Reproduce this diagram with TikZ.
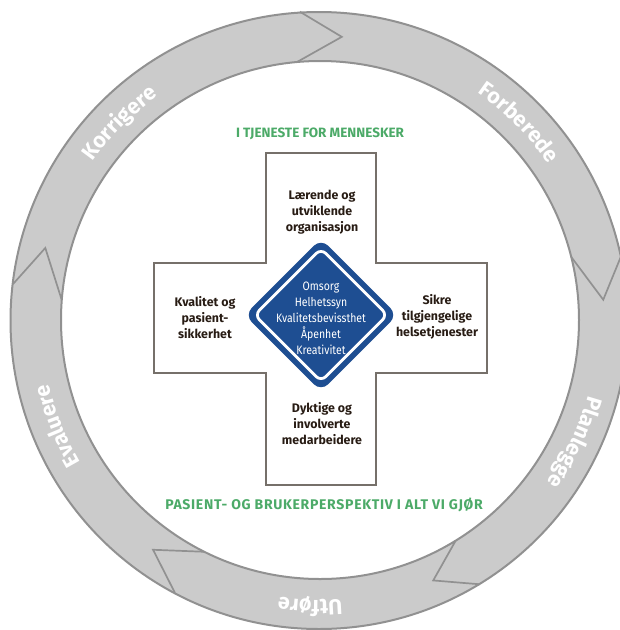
\documentclass[tikz,border=0pt]{standalone}
\usepackage{fontspec}
\setmainfont{Fira Sans}
\usetikzlibrary{decorations.text}
\definecolor{ringfill}{RGB}{203,203,203}
\definecolor{ringline}{RGB}{145,145,145}
\definecolor{crossline}{RGB}{118,112,106}
\definecolor{diablue}{RGB}{30,78,146}
\definecolor{leafgreen}{RGB}{76,170,104}
\definecolor{armtext}{RGB}{40,28,20}
\begin{document}
\begin{tikzpicture}[x=1pt,y=1pt,
  armlabel/.style={align=center, text=armtext, font=\fontsize{12.4}{16}\selectfont\bfseries, inner sep=0pt},
  valuelabel/.style={align=center, text=white, font=\fontsize{12.2}{16.1}\selectfont, inner sep=0pt, xscale=0.86},
  greenhead/.style={text=leafgreen, font=\fontsize{13.5}{16}\selectfont\bfseries, inner sep=0pt, anchor=base},
  ringword/.style={decorate, decoration={text along path, text align=center, text color=white, text={|\fontsize{21.5}{24}\selectfont\bfseries|#1}}},
  ringedge/.style={ringline, line width=2pt},
  chevron/.style={ringline, line width=1.7pt, line join=miter},
]
\clip (0,0) rectangle (620,-630);
\fill[white] (0,0) rectangle (620,-630);
\coordinate (C) at (319,-320.5);
\coordinate (Ci) at (320,-320);
% ring
\fill[ringfill, even odd rule] (C) circle[radius=308.5pt] (Ci) circle[radius=259pt];
\draw[ringedge] (C) circle[radius=308.5pt];
\draw[ringedge] (Ci) circle[radius=259pt];
% chevrons
\draw[chevron, shift={(320,-320)}] (93.75:309pt) -- (85.6:284pt) -- (95.1:259pt);
\draw[chevron, shift={(320,-320)}] (12.3:309pt) -- (4.1:284pt) -- (14.1:259pt);
\draw[chevron, shift={(320,-320)}] (-58.8:309pt) -- (-66.5:284pt) -- (-58.4:259pt);
\draw[chevron, shift={(320,-320)}] (242:309pt) -- (234:284pt) -- (243.5:259pt);
\draw[chevron, shift={(320,-320)}] (173.3:309pt) -- (165.3:284pt) -- (175.6:259pt);
% ring words
\path[shift={(320,-322)}, ringword=Forberede] (75.1:278pt) arc[start angle=75.1, end angle=15.1, radius=278pt];
\path[shift={(320,-322)}, ringword=Planlegge] (4.7:278pt) arc[start angle=4.7, end angle=-55.3, radius=278pt];
\path[shift={(320,-322)}, ringword=Utføre] (-62:278pt) arc[start angle=-62, end angle=-122, radius=278pt];
\path[shift={(320,-322)}, ringword=Evaluere] (231.6:278pt) arc[start angle=231.6, end angle=171.6, radius=278pt];
\path[shift={(320,-322)}, ringword=Korrigere] (165.2:278pt) arc[start angle=165.2, end angle=105.2, radius=278pt];
% cross
\draw[crossline, line width=1.3pt, fill=white] (266,-153) -- (376,-153) -- (376,-263) -- (487,-263) -- (487,-373) -- (376,-373) -- (376,-485) -- (266,-485) -- (266,-373) -- (154,-373) -- (154,-263) -- (266,-263) -- cycle;
% diamond
\node[fill=diablue, rounded corners=10pt, minimum size=108pt, rotate=45, inner sep=0pt] (dia) at (321,-315) {};
\node[draw=white, line width=2.8pt, rounded corners=7pt, minimum size=94pt, rotate=45, inner sep=0pt] (diain) at (321,-315) {};
\node[valuelabel] (values) at (321,-318) {Omsorg\\Helhetssyn\\Kvalitetsbevissthet\\Åpenhet\\Kreativitet};
% arm labels
\node[armlabel] (top) at (322,-212) {Lærende og\\utviklende\\organisasjon};
\node[armlabel] (left) at (205,-318) {Kvalitet og\\pasient-\\sikkerhet};
\node[armlabel] (right) at (437,-317) {Sikre\\tilgjengelige\\helsetjenester};
\node[armlabel] (bottom) at (322,-424) {Dyktige og\\involverte\\medarbeidere};
% green headings
\node[greenhead] (head) at (320,-137) {I TJENESTE FOR MENNESKER};
\node[greenhead, font=\fontsize{14}{16}\selectfont\bfseries\addfontfeatures{LetterSpace=5}] (foot) at (324,-509) {PASIENT- OG BRUKERPERSPEKTIV I ALT VI GJØR};
\end{tikzpicture}
\end{document}
